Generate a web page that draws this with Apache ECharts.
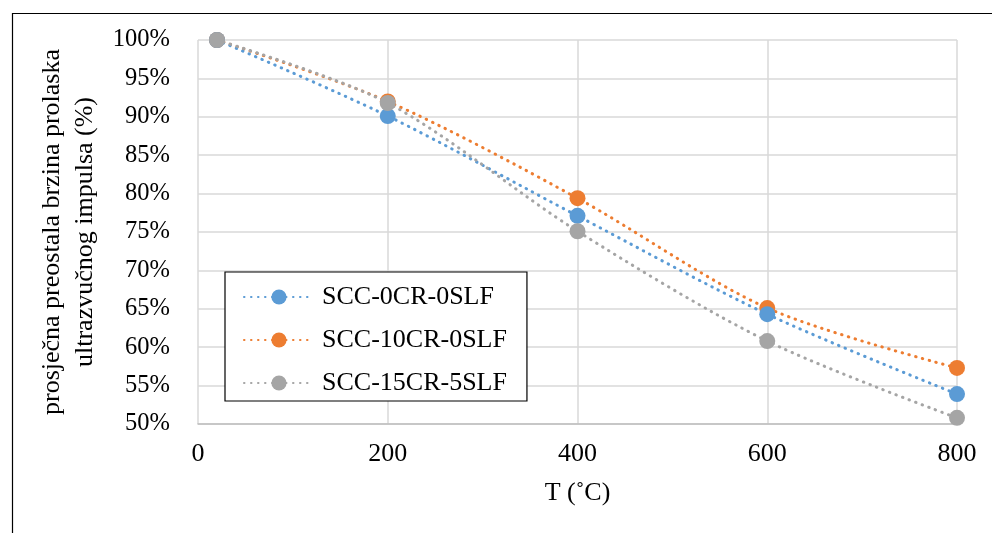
<!DOCTYPE html>
<html><head><meta charset="utf-8">
<script src="https://cdn.jsdelivr.net/npm/echarts@6/dist/echarts.min.js"></script>
<style>html,body{margin:0;padding:0;background:#fff}#c{width:992px;height:533px}</style>
</head><body><div id="c"></div>
<script>
var temps = [20, 200, 400, 600, 800];
var names = ['SCC-0CR-0SLF', 'SCC-10CR-0SLF', 'SCC-15CR-5SLF'];
var s0 = [100, 90.1, 77.1, 64.3, 53.9];
var s1 = [100, 92.0, 79.4, 65.1, 57.3];
var s2 = [100, 91.8, 75.1, 60.8, 50.8];
var colors = ['#5b9bd5', '#ed7d31', '#a5a5a5'];
var yTitle = 'prosječna preostala brzina prolaska\nultrazvučnog impulsa (%)';
var xTitle = 'T (˚C)';

var font = '"Liberation Serif", "Times New Roman", serif';
function mk(name, vals, col, z) {
  return {
    name: name, type: 'line', smooth: 0.3, z: z,
    data: temps.map(function (t, i) { return [t, vals[i]]; }),
    symbol: 'circle', symbolSize: 16,
    itemStyle: { color: col },
    lineStyle: { color: col, width: 3, type: [0.5, 6.5], cap: 'round' }
  };
}
var chart = echarts.init(document.getElementById('c'));
chart.setOption({
  animation: false,
  textStyle: { fontFamily: font },
  grid: { left: 198, right: 35, top: 40, bottom: 109, containLabel: false },
  xAxis: {
    type: 'value', min: 0, max: 800, interval: 200,
    name: xTitle, nameLocation: 'middle', nameGap: 56,
    nameTextStyle: { fontFamily: font, fontSize: 26, color: '#000' },
    axisLine: { show: true, lineStyle: { color: '#bfbfbf', width: 1.5 } },
    axisTick: { show: false },
    axisLabel: { fontFamily: font, fontSize: 26, color: '#000', margin: 17 },
    splitLine: { show: true, lineStyle: { color: '#d9d9d9', width: 1.5 } }
  },
  yAxis: {
    type: 'value', min: 50, max: 100, interval: 5,
    name: yTitle, nameLocation: 'middle', nameGap: 84, nameRotate: 90,
    nameTextStyle: { fontFamily: font, fontSize: 26, color: '#000', lineHeight: 33 },
    axisLine: { show: false },
    axisTick: { show: false },
    axisLabel: { fontFamily: font, fontSize: 24.5, color: '#000', margin: 28,
      formatter: function (v) { return v + '%'; } },
    splitLine: { show: true, lineStyle: { color: '#d9d9d9', width: 1.5 } }
  },
  legend: {
    left: 225, top: 272, orient: 'vertical', itemGap: 17,
    padding: [12, 20, 5, 18],
    borderColor: '#000', borderWidth: 1.2, backgroundColor: '#fff',
    itemWidth: 70, itemHeight: 19,
    textStyle: { fontFamily: font, fontSize: 26, color: '#000', padding: [0, 0, 0, 3] },
    data: names
  },
  graphic: [{
    type: 'rect', left: 10, top: 11, silent: true,
    shape: { x: 0.5, y: 0.5, width: 1000, height: 600 },
    style: { fill: 'none', stroke: '#000', lineWidth: 1.2 }
  }],
  series: [mk(names[0], s0, colors[0], 3), mk(names[1], s1, colors[1], 2), mk(names[2], s2, colors[2], 4)]
});
</script></body></html>
